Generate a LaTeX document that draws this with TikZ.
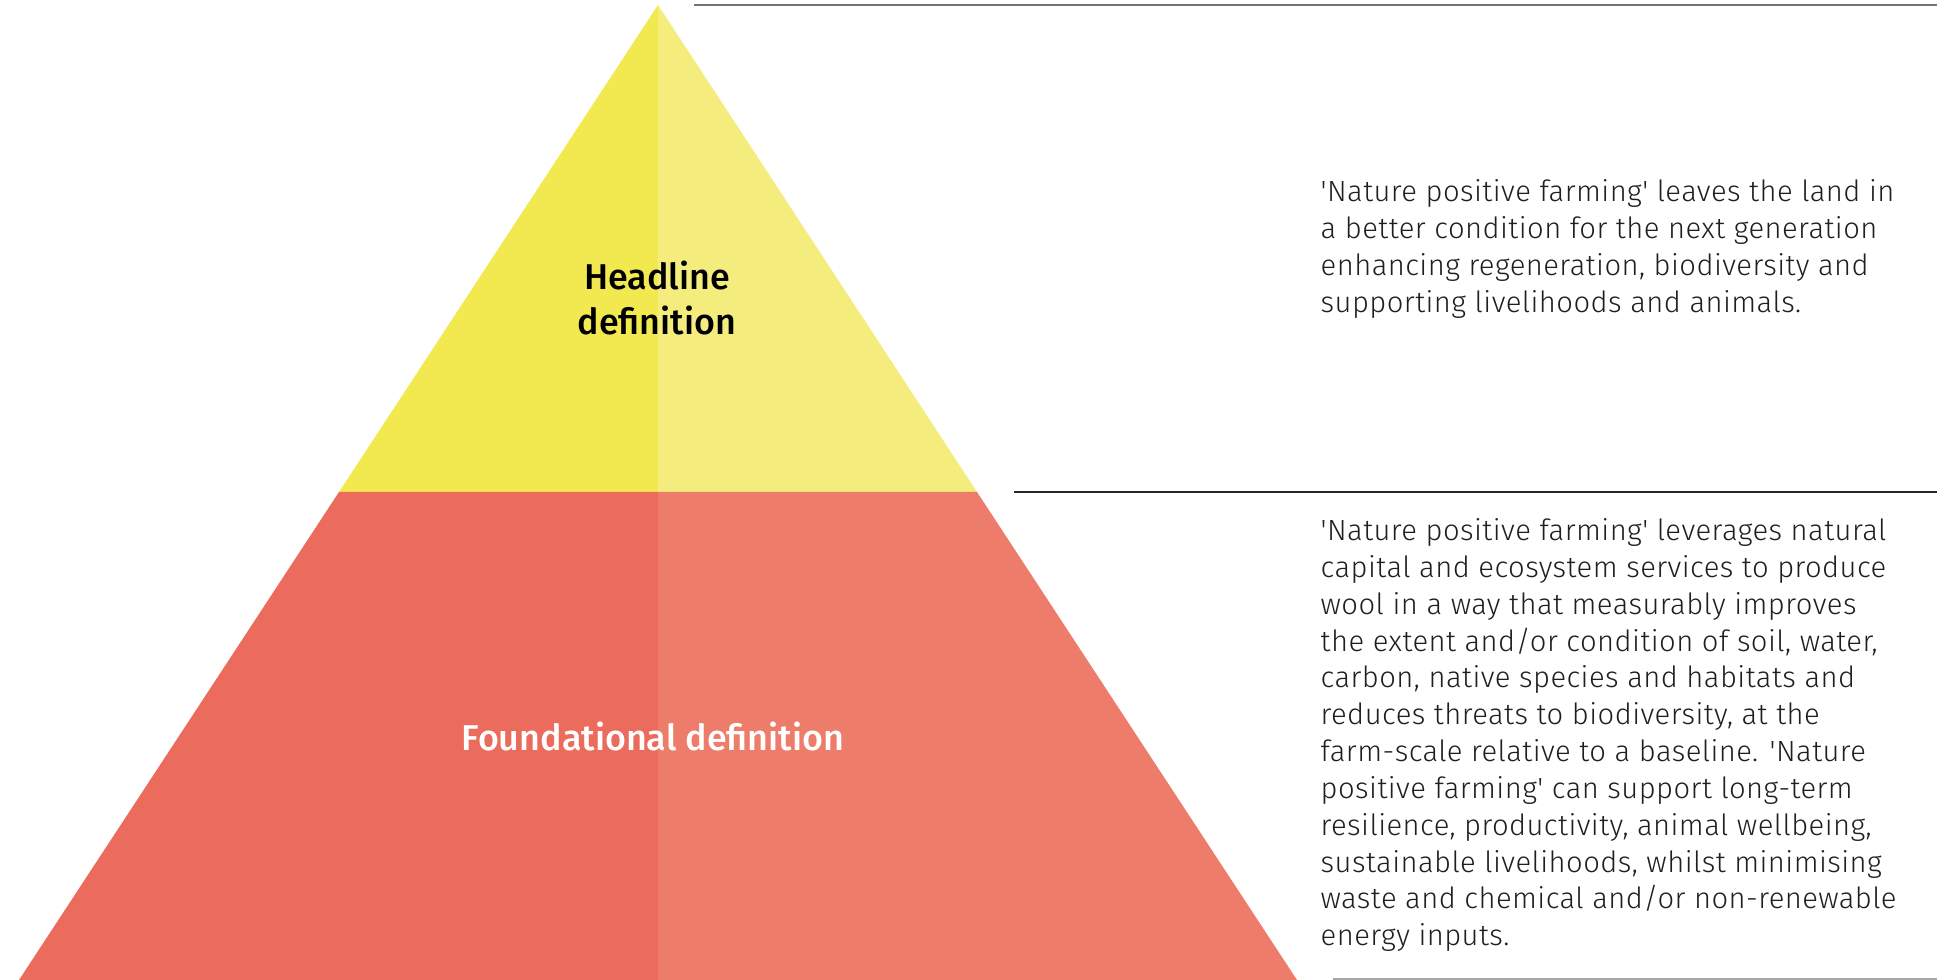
\documentclass[tikz,border=0pt]{standalone}
\usepackage{fontspec}
\newfontfamily\bodyfont[LetterSpace=1.5]{Fira Sans Light}
\newfontfamily\labelfont{Fira Sans Medium}
\usepackage{tikz}
\usetikzlibrary{positioning}
\definecolor{headleft}{HTML}{F2E950}
\definecolor{headright}{HTML}{F4EC7D}
\definecolor{foundleft}{HTML}{EB6C5D}
\definecolor{foundright}{HTML}{ED7C6A}

\begin{document}
\begin{tikzpicture}[x=0.01cm,y=-0.01cm,
  deftext/.style={font=\bodyfont\fontsize{8.3}{10.47}\selectfont, align=left, anchor=north west, inner sep=0pt, text=black!88},
  tierlabel/.style={font=\labelfont\fontsize{10.2}{12.8}\selectfont, align=center, inner sep=0pt}]
\useasboundingbox (0,0) rectangle (1950,980);
% Pyramid corners
\coordinate (apex) at (658,5);
\coordinate (midL) at (339,492);
\coordinate (midC) at (658,492);
\coordinate (midR) at (977,492);
\coordinate (baseL) at (19,980);
\coordinate (baseC) at (658,980);
\coordinate (baseR) at (1297,980);
% Tiers, left half a shade darker
\fill[headleft] (apex) -- (midL) -- (midC) -- cycle;
\fill[headright] (apex) -- (midC) -- (midR) -- cycle;
\fill[foundleft] (midL) -- (baseL) -- (baseC) -- (midC) -- cycle;
\fill[foundright] (midC) -- (baseC) -- (baseR) -- (midR) -- cycle;
% Labels
\node[tierlabel] (headline) at (657,298) {Headline\\definition};
\node[tierlabel, text=white] (foundation) at (653,736) {Foundational definition};
% Rules
\coordinate (ruleA) at (694,5);
\coordinate (ruleAend) at (1937,5);
\coordinate (ruleB) at (1014,492);
\coordinate (ruleBend) at (1937,492);
\coordinate (ruleC) at (1333,979);
\coordinate (ruleCend) at (1937,979);
\draw[line width=0.6pt, black!55] (ruleA) -- (ruleAend);
\draw[line width=0.45pt, black!85] (ruleB) -- (ruleBend);
\draw[line width=0.35pt, black!35] (ruleC) -- (ruleCend);
% Definitions
\node[deftext] (headtext) at (1320,179) {'Nature positive farming' leaves the land in\\
a better condition for the next generation\\
enhancing regeneration, biodiversity and\\
supporting livelihoods and animals.};
\node[deftext] (foundtext) at (1320,518) {'Nature positive farming' leverages natural\\
capital and ecosystem services to produce\\
wool in a way that measurably improves\\
the extent and/or condition of soil, water,\\
carbon, native species and habitats and\\
reduces threats to biodiversity, at the\\
farm-scale relative to a baseline. 'Nature\\
positive farming' can support long-term\\
resilience, productivity, animal wellbeing,\\
sustainable livelihoods, whilst minimising\\
waste and chemical and/or non-renewable\\
energy inputs.};
\end{tikzpicture}
\end{document}
